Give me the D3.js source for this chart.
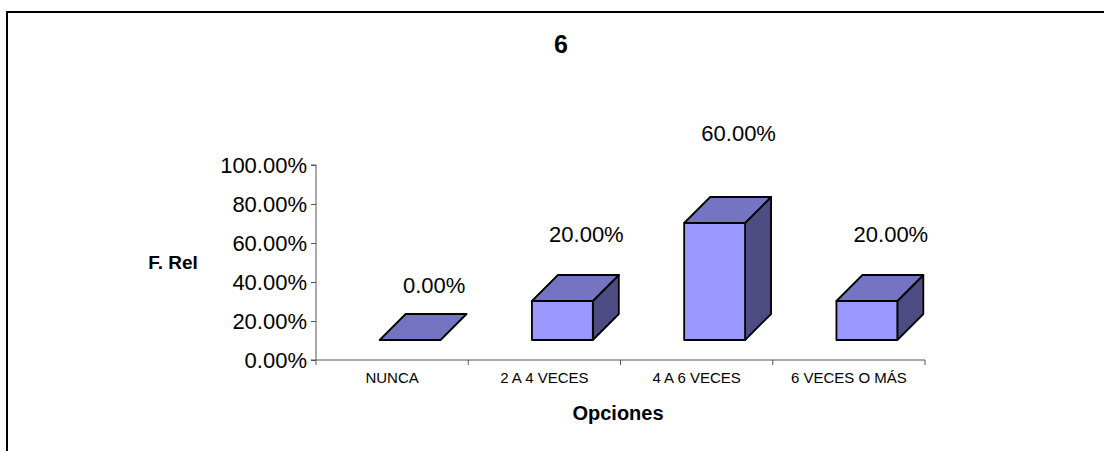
<!DOCTYPE html>
<html>
<head>
<meta charset="utf-8">
<script src="https://cdn.jsdelivr.net/npm/d3@7"></script>
<style>
  html, body { margin: 0; padding: 0; background: #fff; }
  svg { display: block; }
  text { font-family: Arial, "Liberation Sans", sans-serif; fill: #000; }
</style>
</head>
<body>
<svg id="chart" width="1104" height="451"></svg>
<script>
const categories = ["NUNCA", "2 A 4 VECES", "4 A 6 VECES", "6 VECES O MÁS"];
const values = [0.0, 0.2, 0.6, 0.2];
const yTicks = [0, 0.2, 0.4, 0.6, 0.8, 1.0];
const title = "6";
const xTitle = "Opciones";
const yTitle = "F. Rel";

const svg = d3.select("#chart");

// outer chart border (right/bottom edges fall outside the picture)
svg.append("rect")
  .attr("x", 7).attr("y", 12).attr("width", 1110).attr("height", 460)
  .attr("fill", "#fff").attr("stroke", "#000").attr("stroke-width", 2);

const x = d3.scaleBand().domain(categories).range([316, 925]).padding(0);
const y = d3.scaleLinear().domain([0, 1]).range([360, 165]);
const labelY = d3.scaleLinear().domain([0, 1]).range([293, 40]);

const fmt = d3.format(".2%");

// 3D geometry
const frontDx = 18, frontDy = -20;
const depthDx = 26, depthDy = -26;
const barW = x.bandwidth() * 0.4;

const colFront = "#9999FF", colTop = "#7474C2", colSide = "#4D4D83";

// Y axis
const yAxis = d3.axisLeft(y).tickValues(yTicks).tickFormat(fmt).tickSize(5).tickPadding(4);
const gy = svg.append("g").attr("transform", "translate(316,0)").call(yAxis);
gy.select(".domain").attr("stroke", "#555").attr("d", `M-5,${y(1)}H0V${y(0)}H-5`);
gy.selectAll(".tick line").attr("stroke", "#555");
gy.selectAll(".tick text").style("font-size", "22px").attr("fill", "#000")
  .style("font-family", "Arial, 'Liberation Sans', sans-serif");

// X axis
const xAxis = d3.axisBottom(x).tickSize(0).tickPadding(12);
const gx = svg.append("g").attr("transform", `translate(0,${y(0)})`).call(xAxis);
gx.select(".domain").attr("stroke", "#555").attr("d", `M${x.range()[0]},0H${x.range()[1]}`);
gx.selectAll(".tick text").style("font-size", "15px").attr("fill", "#000")
  .style("font-family", "Arial, 'Liberation Sans', sans-serif");
// boundary ticks
const bounds = categories.map(c => x(c)).concat([x.range()[1]]);
gx.selectAll("line.bound").data(bounds).enter().append("line")
  .attr("class", "bound")
  .attr("x1", d => d).attr("x2", d => d)
  .attr("y1", 0).attr("y2", 5)
  .attr("stroke", "#555");

// Bars
const bars = svg.append("g");
categories.forEach((c, i) => {
  const v = values[i];
  const cx = x(c) + x.bandwidth() / 2 + frontDx;
  const x0 = cx - barW / 2, x1 = cx + barW / 2;
  const yb = y(0) + frontDy, yt = y(v) + frontDy;
  const g = bars.append("g").attr("stroke", "#000").attr("stroke-width", 1.8).attr("stroke-linejoin", "round");
  if (yb - yt > 0.5) {
    g.append("path")
      .attr("d", `M${x1},${yt}L${x1 + depthDx},${yt + depthDy}L${x1 + depthDx},${yb + depthDy}L${x1},${yb}Z`)
      .attr("fill", colSide);
    g.append("rect")
      .attr("x", x0).attr("y", yt).attr("width", barW).attr("height", yb - yt)
      .attr("fill", colFront);
  }
  g.append("path")
    .attr("d", `M${x0},${yt}L${x0 + depthDx},${yt + depthDy}L${x1 + depthDx},${yt + depthDy}L${x1},${yt}Z`)
    .attr("fill", colTop);

  svg.append("text")
    .attr("x", cx + depthDx - 2)
    .attr("y", labelY(v))
    .attr("text-anchor", "middle")
    .style("font-size", "22px")
    .text(fmt(v));
});

// Titles
svg.append("text").attr("x", 561).attr("y", 53).attr("text-anchor", "middle")
  .style("font-size", "25px").style("font-weight", "bold").text(title);
svg.append("text").attr("x", 618).attr("y", 420).attr("text-anchor", "middle")
  .style("font-size", "20px").style("font-weight", "bold").text(xTitle);
svg.append("text").attr("x", 173).attr("y", 269).attr("text-anchor", "middle")
  .style("font-size", "19px").style("font-weight", "bold").text(yTitle);
</script>
</body>
</html>
